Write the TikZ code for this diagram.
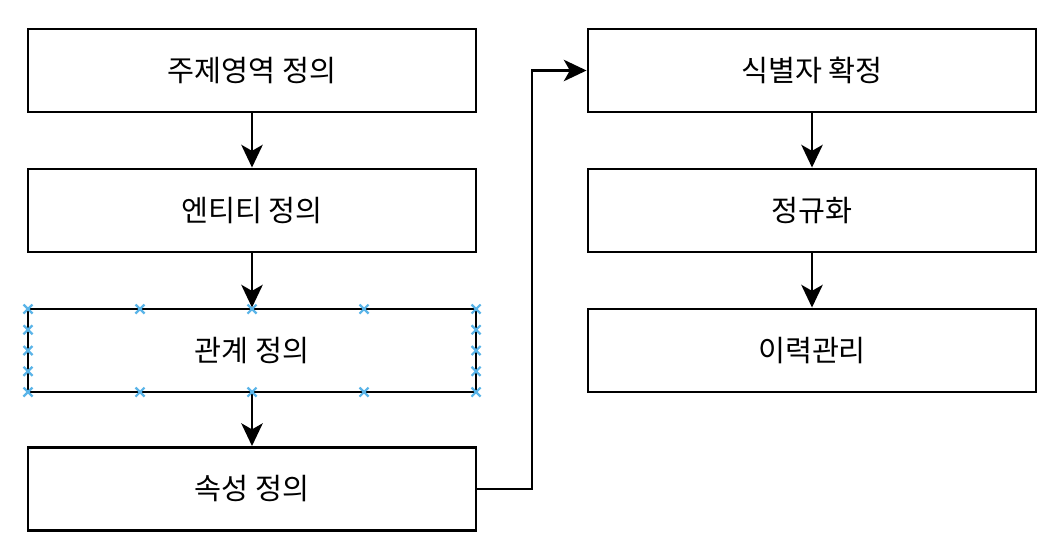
\documentclass[tikz,border=0pt]{standalone}
\usepackage{fontspec}
\setmainfont{Noto Sans CJK KR}
\usetikzlibrary{arrows.meta,positioning,calc}
\definecolor{selblue}{HTML}{5AB4E8}
\tikzset{
  px/.style={x=0.75pt,y=-0.75pt},
  stepbox/.style={draw=black,line width=2.2pt,fill=white,minimum width=448*0.75pt,minimum height=83*0.75pt,inner sep=0pt,font=\fontsize{22pt}{25pt}\selectfont},
  flow/.style={draw=black,line width=2.2pt,-{Stealth[length=17pt,width=16pt,inset=4.5pt]}},
  selmark/.style={draw=selblue,line width=1.6pt}
}
\newcommand{\selcross}[1]{\draw[selmark] ($(#1)+(-4.5,-4.5)$) -- ($(#1)+(4.5,4.5)$) ($(#1)+(-4.5,4.5)$) -- ($(#1)+(4.5,-4.5)$);}
\begin{document}
\begin{tikzpicture}[px]
\useasboundingbox (0,0) rectangle (1052,550);
\node[stepbox] (a) at (252,70.5) {주제영역 정의};
\node[stepbox] (b) at (252,210.5) {엔티티 정의};
\node[stepbox] (c) at (252,350.5) {관계 정의};
\node[stepbox] (d) at (252,489) {속성 정의};
\node[stepbox] (e) at (812,70.5) {식별자 확정};
\node[stepbox] (f) at (812,210.5) {정규화};
\node[stepbox] (g) at (812,350.5) {이력관리};
\draw[flow] (a) -- (b);
\draw[flow] (b) -- (c);
\draw[flow] (c) -- (d);
\draw[flow] (e) -- (f);
\draw[flow] (f) -- (g);
\coordinate (k1) at (532,489);
\coordinate (k2) at (532,70.5);
\draw[flow] (d.east) -- (k1) -- (k2) -- (e.west);
% selection markers on the 관계 정의 box
\foreach \xx in {28,140,252,364,476} {
  \selcross{\xx,309}
  \selcross{\xx,392}
}
\foreach \yy in {329.75,350.5,371.25} {
  \selcross{28,\yy}
  \selcross{476,\yy}
}
\end{tikzpicture}
\end{document}
